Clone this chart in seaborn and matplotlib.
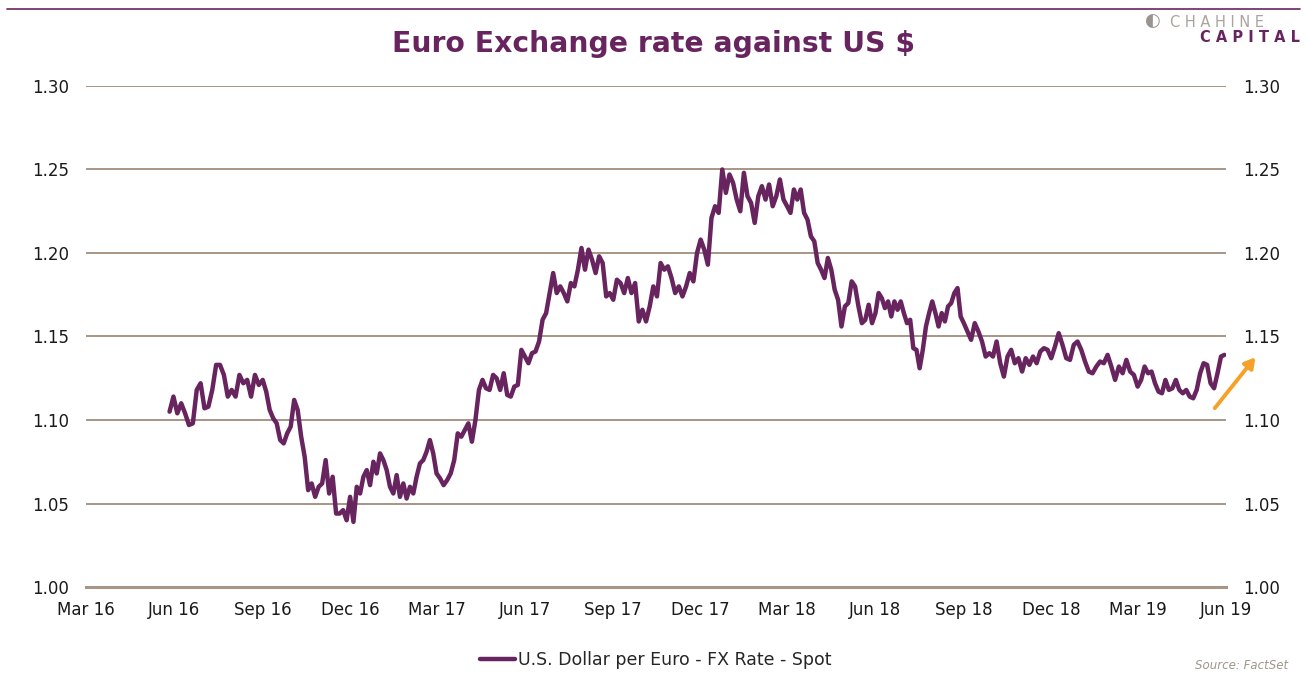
import numpy as np
import pandas as pd
import matplotlib.pyplot as plt
import matplotlib.dates as mdates
from matplotlib.lines import Line2D
import seaborn as sns

# USD per EUR spot, one list per quarter
q_2016_jun = [1.105, 1.114, 1.104, 1.110, 1.104, 1.097, 1.098, 1.118, 1.122, 1.107, 1.108, 1.118,
              1.133, 1.133, 1.127, 1.114, 1.118, 1.114, 1.127, 1.122, 1.124, 1.114, 1.127, 1.121]
q_2016_sep = [1.124, 1.117, 1.106, 1.101, 1.098, 1.088, 1.086, 1.092, 1.096, 1.112, 1.106, 1.090,
              1.078, 1.058, 1.062, 1.054, 1.060, 1.062, 1.076, 1.056, 1.066, 1.044, 1.044, 1.046, 1.040]
q_2016_dec = [1.054, 1.039, 1.060, 1.056, 1.066, 1.070, 1.061, 1.075, 1.068, 1.080, 1.076, 1.070, 1.060,
              1.056, 1.067, 1.054, 1.062, 1.053, 1.060, 1.056, 1.066, 1.074, 1.076, 1.081, 1.088, 1.080]
q_2017_mar = [1.068, 1.065, 1.061, 1.064, 1.068, 1.076, 1.092, 1.090, 1.094, 1.098, 1.087, 1.100, 1.118,
              1.124, 1.119, 1.118, 1.127, 1.125, 1.118, 1.128, 1.115, 1.114, 1.120, 1.121, 1.142]
q_2017_jun = [1.138, 1.134, 1.140, 1.141, 1.147, 1.160, 1.164, 1.176, 1.188, 1.176, 1.180, 1.176, 1.171,
              1.182, 1.180, 1.190, 1.203, 1.190, 1.202, 1.196, 1.188, 1.198, 1.194, 1.174, 1.176]
q_2017_sep = [1.172, 1.184, 1.182, 1.176, 1.185, 1.176, 1.182, 1.159, 1.166, 1.159, 1.168, 1.180,
              1.174, 1.194, 1.190, 1.192, 1.185, 1.176, 1.180, 1.174, 1.180, 1.188, 1.183, 1.200]
q_2017_dec = [1.208, 1.202, 1.193, 1.221, 1.228, 1.224, 1.250, 1.236, 1.247, 1.242, 1.232, 1.225,
              1.248, 1.234, 1.230, 1.218, 1.234, 1.240, 1.232, 1.241, 1.228, 1.234, 1.244, 1.232]
q_2018_mar = [1.228, 1.224, 1.238, 1.232, 1.238, 1.224, 1.220, 1.210, 1.207, 1.194, 1.190, 1.185, 1.197,
              1.190, 1.178, 1.172, 1.156, 1.168, 1.170, 1.183, 1.180, 1.168, 1.158, 1.160, 1.169, 1.158]
q_2018_jun = [1.164, 1.176, 1.173, 1.167, 1.171, 1.162, 1.171, 1.166, 1.171, 1.164, 1.158, 1.160, 1.143, 1.142,
              1.131, 1.142, 1.156, 1.164, 1.171, 1.164, 1.156, 1.164, 1.159, 1.168, 1.170, 1.176, 1.179, 1.162]
q_2018_sep = [1.158, 1.153, 1.148, 1.158, 1.153, 1.147, 1.138, 1.140, 1.138, 1.147, 1.134, 1.126,
              1.138, 1.142, 1.134, 1.137, 1.129, 1.137, 1.133, 1.138, 1.134, 1.141, 1.143, 1.142]
q_2018_dec = [1.137, 1.144, 1.152, 1.145, 1.137, 1.136, 1.145, 1.147, 1.142, 1.135, 1.129, 1.128,
              1.132, 1.135, 1.134, 1.139, 1.132, 1.124, 1.132, 1.128, 1.136, 1.129, 1.127]
q_2019_mar = [1.120, 1.124, 1.132, 1.128, 1.129, 1.122, 1.117, 1.116, 1.124, 1.118, 1.119, 1.124, 1.118,
              1.116, 1.118, 1.114, 1.113, 1.118, 1.128, 1.134, 1.133, 1.122, 1.119, 1.128, 1.138, 1.139]

quarters = [q_2016_jun, q_2016_sep, q_2016_dec, q_2017_mar, q_2017_jun, q_2017_sep,
            q_2017_dec, q_2018_mar, q_2018_jun, q_2018_sep, q_2018_dec, q_2019_mar]
quarter_bounds = ["2016-05-27", "2016-09-01", "2016-12-01", "2017-03-01", "2017-06-01", "2017-09-01",
                  "2017-12-01", "2018-03-01", "2018-06-01", "2018-09-01", "2018-12-01", "2019-03-01",
                  "2019-06-03"]

y_ticks = [1.00, 1.05, 1.10, 1.15, 1.20, 1.25, 1.30]
series_name = "U.S. Dollar per Euro - FX Rate - Spot"

PURPLE = "#68245f"
GRID = "#a89585"

frames = []
for vals, start, end in zip(quarters, quarter_bounds[:-1], quarter_bounds[1:]):
    dates = pd.date_range(start, end, periods=len(vals) + 1)[:-1]
    frames.append(pd.DataFrame({"date": dates, "rate": vals}))
df = pd.concat(frames, ignore_index=True)
df["series"] = series_name

sns.set_style("white")
plt.rcParams["font.family"] = ["DejaVu Sans"]

fig = plt.figure(figsize=(13.09, 6.78), dpi=100)
ax = fig.add_axes([0.0657, 0.1342, 0.8709, 0.739])

sns.lineplot(data=df, x="date", y="rate", hue="series", palette=[PURPLE],
             linewidth=3.2, ax=ax, legend=False)

ax.set_xlim(pd.Timestamp("2016-03-01"), pd.Timestamp("2019-06-01"))
ax.set_ylim(1.00, 1.30)
ax.set_yticks(y_ticks)
ax.yaxis.set_major_formatter(plt.FuncFormatter(lambda v, p: f"{v:.2f}"))
ax.xaxis.set_major_locator(mdates.MonthLocator(bymonth=[3, 6, 9, 12]))
ax.xaxis.set_major_formatter(mdates.DateFormatter("%b %y"))

ax.grid(axis="y", color=GRID, linewidth=1.4)
ax.grid(axis="x", visible=False)
for side in ["top", "left", "right"]:
    ax.spines[side].set_visible(False)
ax.spines["bottom"].set_color(GRID)
ax.spines["bottom"].set_linewidth(2.2)

ax.tick_params(axis="x", direction="out", length=4, width=2, color=GRID,
               labelsize=12, pad=6, labelcolor="#1a1a1a")
ax.tick_params(axis="y", length=0, labelsize=12, labelcolor="#1a1a1a",
               left=False, right=False, labelleft=True, labelright=True, pad=12)
ax.set_xlabel("")
ax.set_ylabel("")

fig.text(0.499, 0.935, "Euro Exchange rate against US $", ha="center", va="center",
         fontsize=20.3, fontweight="bold", color=PURPLE)

# thin rule across the top and the logo
fig.add_artist(Line2D([0.005, 0.993], [0.987, 0.987], color=PURPLE, linewidth=1.2))
fig.text(0.881, 0.969, "◐", ha="center", va="center", fontsize=13, color="#9a9490")
fig.text(0.930, 0.9675, "C H A H I N E", ha="center", va="center", fontsize=10.5,
         color="#aaa39e")
fig.text(0.955, 0.944, "C A P I T A L", ha="center", va="center", fontsize=10.5,
         fontweight="bold", color=PURPLE)

# orange arrow pointing up at the end of the series
ax.annotate("", xy=(0.959, 0.473), xytext=(0.928, 0.398), xycoords="figure fraction",
            textcoords="figure fraction",
            arrowprops=dict(arrowstyle="-|>,head_length=0.6,head_width=0.35",
                            color="#f7a128", lw=2.8, shrinkA=0, shrinkB=0))

handle = [Line2D([0], [0], color=PURPLE, linewidth=3.2)]
fig.legend(handle, [series_name], loc="center", bbox_to_anchor=(0.501, 0.027),
           frameon=False, fontsize=12.5, handlelength=2.0, handletextpad=0.15)

fig.text(0.984, 0.009, "Source: FactSet", ha="right", va="bottom", fontsize=8.5,
         style="italic", color="#a0968c")

fig.savefig("out.png", dpi=100)
